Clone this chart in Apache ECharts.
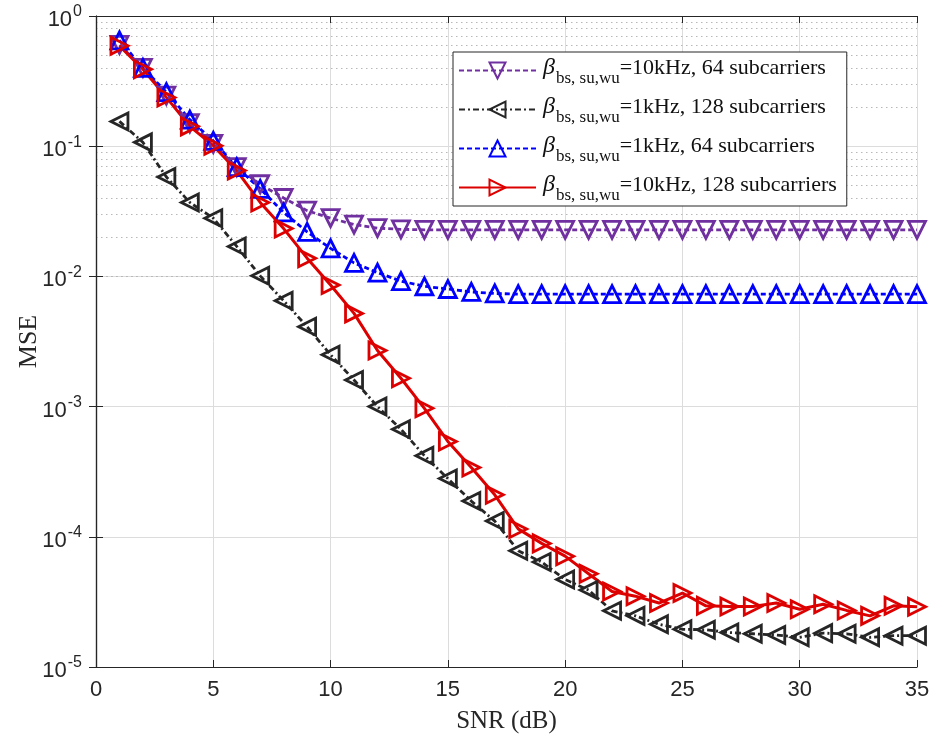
<!DOCTYPE html>
<html>
<head>
    <meta charset="utf-8">
    <title>MSE vs SNR</title>
    <script src="https://cdn.jsdelivr.net/npm/echarts@6/dist/echarts.min.js"></script>
    <style type="text/css">
        *{margin: 0;padding: 0;}
        body{background: #fff;overflow: hidden;}
        #main{width: 935px;height: 748px;}
    </style>
</head>
<body>
<div id="main"></div>
<script type="text/javascript">
    var snr = [1,2,3,4,5,6,7,8,9,10,11,12,13,14,15,16,17,18,19,20,21,22,23,24,25,26,27,28,29,30,31,32,33,34,35];
    // beta = 10kHz, 64 subcarriers
    var mse10k64 = [0.60,0.40,0.245,0.15,0.104,0.069,0.051,0.040,0.032,0.028,0.025,0.0235,0.023,0.0228,0.0228,0.0228,0.0228,0.0228,0.0228,0.0228,0.0228,0.0228,0.0228,0.0228,0.0228,0.0228,0.0228,0.0228,0.0228,0.0228,0.0228,0.0228,0.0228,0.0228,0.0228];
    // beta = 1kHz, 128 subcarriers
    var mse1k128 = [0.155,0.107,0.058,0.037,0.028,0.0170,0.0101,0.0065,0.0041,0.0025,0.0016,0.0010,0.00067,0.00042,0.00028,0.000188,0.000132,0.000078,0.000064,0.000047,0.000039,0.000027,0.0000247,0.0000213,0.0000195,0.0000193,0.0000184,0.000018,0.0000176,0.0000169,0.0000182,0.000018,0.0000169,0.0000174,0.0000174];
    // beta = 1kHz, 64 subcarriers
    var mse1k64 = [0.65,0.40,0.26,0.16,0.110,0.069,0.047,0.031,0.022,0.0164,0.0127,0.0107,0.0092,0.0084,0.0080,0.0076,0.0074,0.0073,0.0073,0.0073,0.0073,0.0073,0.0073,0.0073,0.0073,0.0073,0.0073,0.0073,0.0073,0.0073,0.0073,0.0073,0.0073,0.0073,0.0073];
    // beta = 10kHz, 128 subcarriers
    var mse10k128 = [0.59,0.39,0.237,0.142,0.101,0.065,0.037,0.0233,0.0138,0.0086,0.0052,0.0027,0.00165,0.00097,0.00054,0.00034,0.00021,0.000115,0.000089,0.000071,0.000052,0.000038,0.000035,0.000031,0.000037,0.0000295,0.0000292,0.0000292,0.000031,0.0000278,0.0000303,0.0000272,0.0000247,0.0000295,0.000029];

    var yDecades = [1e-5,1e-4,1e-3,1e-2,1e-1,1];
    var legendNames = ['10kHz, 64 subcarriers','1kHz, 128 subcarriers','1kHz, 64 subcarriers','10kHz, 128 subcarriers'];

    var serif = '"Liberation Serif", "Times New Roman", serif';
    var sans = '"Liberation Sans", Arial, sans-serif';

    // minor grid values 2..9 x 10^k
    var minorVals = [];
    for (var d = 0; d < yDecades.length - 1; d++) {
        for (var m = 2; m <= 9; m++) {
            minorVals.push(Number((m * yDecades[d]).toPrecision(3)));
        }
    }

    function pairs(arr){
        var out = [];
        for (var i = 0; i < snr.length; i++) {
            out.push([snr[i], arr[i]]);
        }
        return out;
    }

    function makeSeries(name, data, color, lineType, rotate, width){
        return {
            name: name,
            type: 'line',
            data: pairs(data),
            symbol: 'triangle',
            symbolSize: 17,
            symbolRotate: rotate,
            showAllSymbol: true,
            lineStyle: {color: color, width: width, type: lineType},
            itemStyle: {color: 'rgba(255,255,255,0)', borderColor: color, borderWidth: 2.8},
            emphasis: {disabled: true}
        };
    }

    var myChart = echarts.init(document.getElementById('main'));

    var series = [
        makeSeries(legendNames[0], mse10k64, '#7030A0', [5,3], 180, 2.8),
        makeSeries(legendNames[1], mse1k128, '#262626', [6,3,2,3], 90, 2.8),
        makeSeries(legendNames[2], mse1k64, '#0000FF', [5,3], 0, 2.8),
        makeSeries(legendNames[3], mse10k128, '#DD0000', 'solid', -90, 3)
    ];
    series[0].markLine = {
        silent: true,
        symbol: 'none',
        label: {show: false},
        lineStyle: {color: '#b8b8b8', type: [1.5,3.5], width: 1},
        data: minorVals.map(function(v){ return {yAxis: v}; }),
        z: 0
    };

    var option = {
        animation: false,
        backgroundColor: '#fff',
        grid: {left: 96, right: 18, top: 16, bottom: 81},
        legend: {
            orient: 'vertical',
            left: 453,
            top: 52,
            backgroundColor: '#fff',
            borderColor: '#262626',
            borderWidth: 1,
            padding: [4, 10, 2, 5],
            itemWidth: 77,
            itemHeight: 20,
            itemGap: 8,
            data: legendNames,
            formatter: function(name){
                return '{b|β}{s|bs, su,wu}{n|=' + name + '}';
            },
            textStyle: {
                rich: {
                    b: {fontFamily: serif, fontStyle: 'italic', fontSize: 24, color: '#111', padding: [0, 1, 5, 2]},
                    s: {fontFamily: serif, fontSize: 17, color: '#111', padding: [16, 0, 0, 0]},
                    n: {fontFamily: serif, fontSize: 22, color: '#111', padding: [0, 0, 5, 0]}
                }
            }
        },
        xAxis: [{
            type: 'value',
            min: 0,
            max: 35,
            interval: 5,
            name: 'SNR (dB)',
            nameLocation: 'middle',
            nameGap: 42,
            nameMoveOverlap: false,
            nameTextStyle: {fontFamily: serif, fontSize: 25, color: '#262626'},
            axisLine: {lineStyle: {color: '#262626', width: 1.2}},
            axisTick: {inside: true, length: 7, lineStyle: {color: '#262626'}},
            axisLabel: {fontFamily: sans, fontSize: 22, color: '#262626', margin: 12},
            splitLine: {show: true, lineStyle: {color: '#dcdcdc', width: 1}}
        }, {
            type: 'value',
            position: 'top',
            min: 0,
            max: 35,
            interval: 5,
            axisLine: {show: true, lineStyle: {color: '#262626', width: 1.2}},
            axisTick: {inside: true, length: 7, lineStyle: {color: '#262626'}},
            axisLabel: {show: false},
            splitLine: {show: false}
        }],
        yAxis: [{
            type: 'log',
            logBase: 10,
            min: 1e-5,
            max: 1,
            name: 'MSE',
            nameLocation: 'middle',
            nameGap: 54,
            nameMoveOverlap: false,
            nameRotate: 90,
            nameTextStyle: {fontFamily: serif, fontSize: 26, color: '#262626'},
            axisLine: {show: true, lineStyle: {color: '#262626', width: 1.2}},
            axisTick: {inside: true, length: 7, lineStyle: {color: '#262626'}},
            axisLabel: {
                margin: 14,
                formatter: function(v){
                    var e = Math.round(Math.log(v) / Math.LN10);
                    return '{b|10}{e|' + e + '}';
                },
                rich: {
                    b: {fontFamily: sans, fontSize: 22, color: '#262626', padding: [8, 0, 0, 0]},
                    e: {fontFamily: sans, fontSize: 16, color: '#262626', padding: [0, 0, 8, 1]}
                }
            },
            splitLine: {show: true, lineStyle: {color: '#dcdcdc', width: 1}}
        }, {
            type: 'log',
            logBase: 10,
            min: 1e-5,
            max: 1,
            position: 'right',
            axisLine: {show: true, lineStyle: {color: '#262626', width: 1.2}},
            axisTick: {inside: true, length: 7, lineStyle: {color: '#262626'}},
            axisLabel: {show: false},
            splitLine: {show: false}
        }],
        series: series
    };

    myChart.setOption(option);
</script>
</body>
</html>
